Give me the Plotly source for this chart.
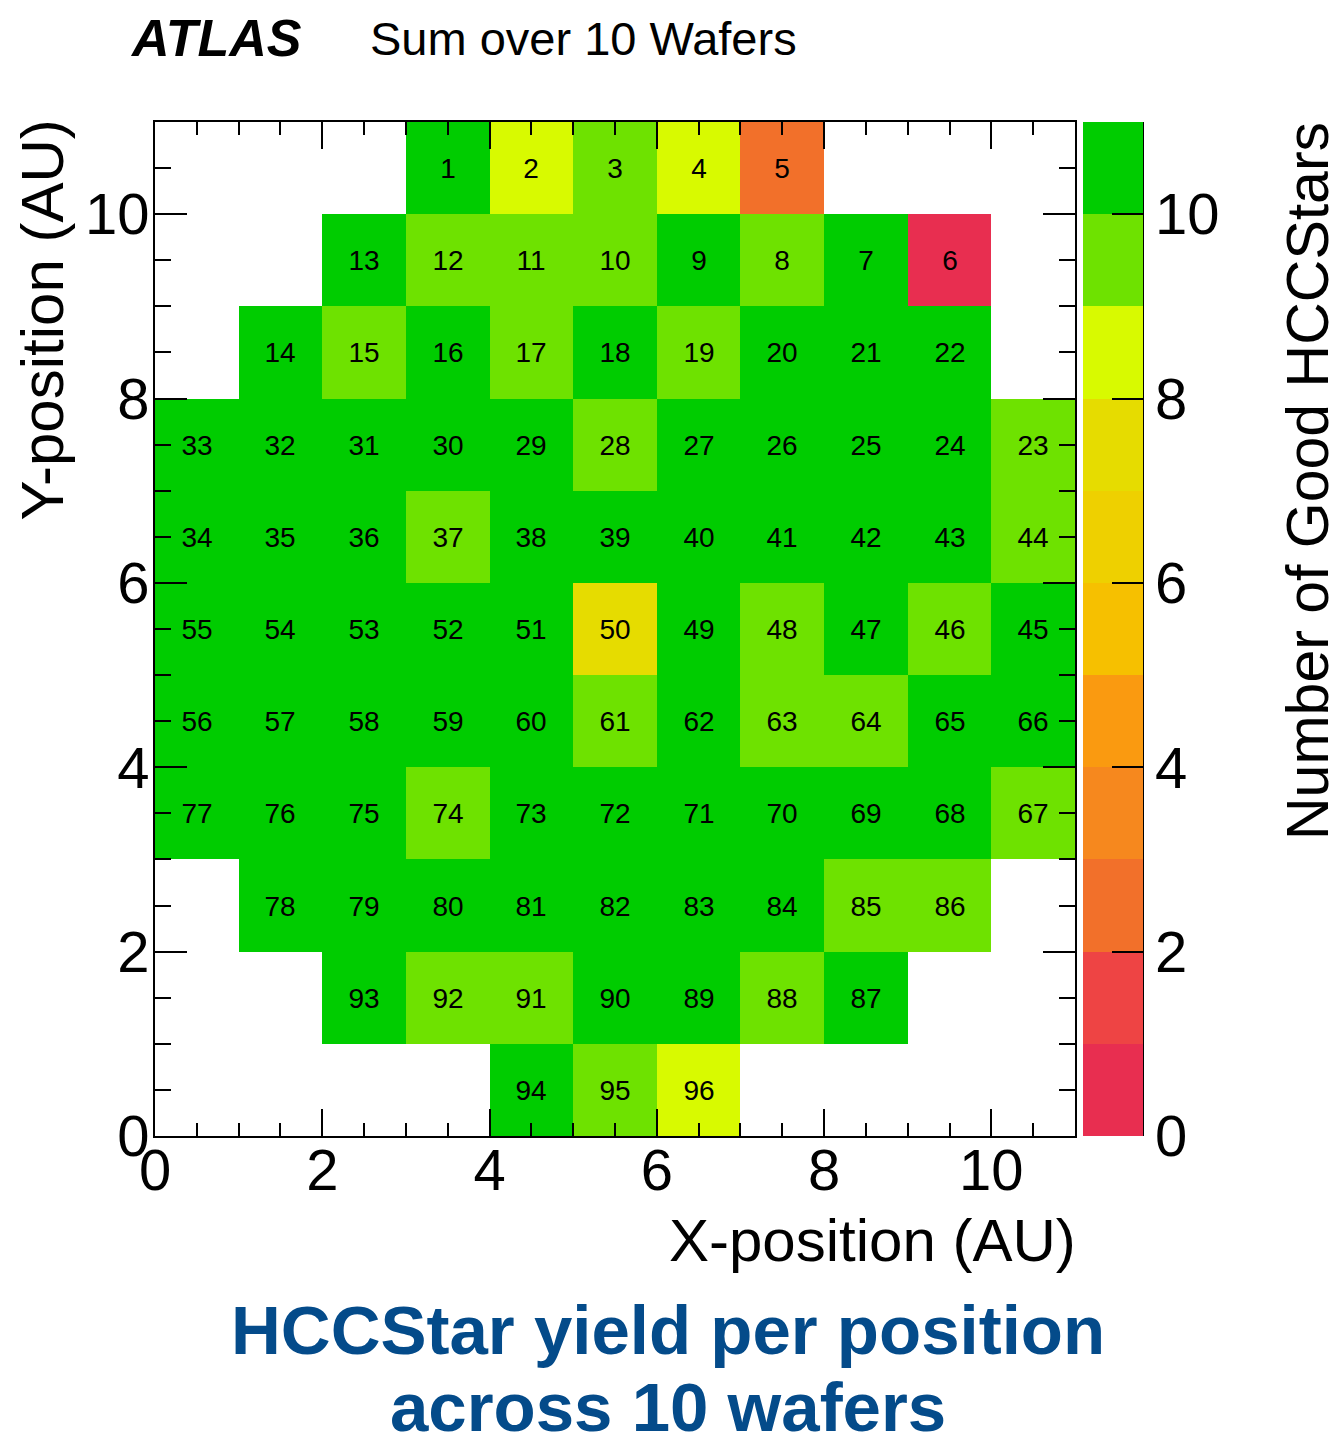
import plotly.graph_objects as go

# ---------------- data ----------------
row_y = [10, 9, 8, 7, 6, 5, 4, 3, 2, 1, 0]
row_x_start = [3, 2, 1, 0, 0, 0, 0, 0, 1, 2, 4]
row_ids = [
    [1, 2, 3, 4, 5],
    [13, 12, 11, 10, 9, 8, 7, 6],
    [14, 15, 16, 17, 18, 19, 20, 21, 22],
    [33, 32, 31, 30, 29, 28, 27, 26, 25, 24, 23],
    [34, 35, 36, 37, 38, 39, 40, 41, 42, 43, 44],
    [55, 54, 53, 52, 51, 50, 49, 48, 47, 46, 45],
    [56, 57, 58, 59, 60, 61, 62, 63, 64, 65, 66],
    [77, 76, 75, 74, 73, 72, 71, 70, 69, 68, 67],
    [78, 79, 80, 81, 82, 83, 84, 85, 86],
    [93, 92, 91, 90, 89, 88, 87],
    [94, 95, 96],
]
row_yields = [
    [10, 8, 9, 8, 2],
    [10, 9, 9, 9, 10, 9, 10, 0],
    [10, 9, 10, 9, 10, 9, 10, 10, 10],
    [10, 10, 10, 10, 10, 9, 10, 10, 10, 10, 9],
    [10, 10, 10, 9, 10, 10, 10, 10, 10, 10, 9],
    [10, 10, 10, 10, 10, 7, 10, 9, 10, 9, 10],
    [10, 10, 10, 10, 10, 9, 10, 9, 9, 10, 10],
    [10, 10, 10, 9, 10, 10, 10, 10, 10, 10, 9],
    [10, 10, 10, 10, 10, 10, 10, 9, 9],
    [10, 9, 9, 10, 10, 9, 10],
    [10, 9, 8],
]
band_colors = ["#e82e50", "#ee4444", "#f2702a", "#f6881e", "#fa9a10", "#f6c000",
               "#eed000", "#e6dc00", "#d8fa00", "#6ee200", "#00cc00"]
n_bins = 11
x_centers = [i + 0.5 for i in range(n_bins)]
y_centers = [i + 0.5 for i in range(n_bins)]

# build grid
z = [[None] * n_bins for _ in range(n_bins)]
txt = [[""] * n_bins for _ in range(n_bins)]
for yv, x0, ids, ylds in zip(row_y, row_x_start, row_ids, row_yields):
    for k, (pid, val) in enumerate(zip(ids, ylds)):
        z[yv][x0 + k] = val
        txt[yv][x0 + k] = str(pid)

# discrete colorscale
nb = len(band_colors)
cscale = []
for i, c in enumerate(band_colors):
    cscale.append([i / nb, c])
    cscale.append([(i + 1) / nb, c])

FONT = "Liberation Sans, Arial, Helvetica, sans-serif"
W, H = 1342, 1437
L, R, T, B = 155, 1342 - 1075, 122, 1437 - 1136
pw, ph = W - L - R, H - T - B

def px_x(p):
    return (p - L) / pw

def px_y(p):
    return (H - B - p) / ph

fig = go.Figure()
fig.add_trace(go.Heatmap(
    x=x_centers, y=y_centers, z=z, text=txt,
    texttemplate="%{text}", textfont=dict(size=28, color="black", family=FONT),
    zmin=0, zmax=11, colorscale=cscale, hoverongaps=False,
    colorbar=dict(
        x=px_x(1083), xanchor="left", xpad=0, ypad=0,
        y=0.5, yanchor="middle", len=1, lenmode="fraction",
        thickness=60, thicknessmode="pixels",
        outlinewidth=0,
        tickmode="linear", tick0=0, dtick=2,
        ticks="inside", ticklen=31, tickwidth=1.5, tickcolor="black",
        tickfont=dict(size=58, color="black", family=FONT),
    ),
))

axis_common = dict(
    range=[0, 11], showgrid=False, zeroline=False,
    showline=True, linecolor="black", linewidth=2, mirror="allticks",
    ticks="inside", tickcolor="black", tickwidth=1.5,
    tickmode="linear", tick0=0, dtick=2,
    tickfont=dict(size=58, color="black", family=FONT),
)
fig.update_xaxes(**axis_common, ticklen=27, ticklabelstandoff=-18,
                 minor=dict(dtick=0.5, ticks="inside", ticklen=13, tickcolor="black", tickwidth=1.5))
fig.update_yaxes(**axis_common, ticklen=32, ticklabelstandoff=-8,
                 minor=dict(dtick=0.5, ticks="inside", ticklen=16, tickcolor="black", tickwidth=1.5))

# colorbar right edge line
fig.add_shape(type="line", xref="paper", yref="paper",
              x0=px_x(1143), x1=px_x(1143), y0=0, y1=1,
              line=dict(color="black", width=2))

ann = []
ann.append(dict(text="<b><i>ATLAS</i></b>", x=px_x(128), y=px_y(38), xanchor="left", yanchor="middle",
                font=dict(size=52, color="black", family=FONT)))
ann.append(dict(text="Sum over 10 Wafers", x=px_x(368), y=px_y(38), xanchor="left", yanchor="middle",
                font=dict(size=47, color="black", family=FONT)))
ann.append(dict(text="X-position (AU)", x=px_x(1078), y=px_y(1240), xanchor="right", yanchor="middle",
                font=dict(size=60, color="black", family=FONT)))
ann.append(dict(text="Y-position (AU)", x=px_x(42), y=px_y(118), xanchor="center", yanchor="top",
                textangle=-90, font=dict(size=60, color="black", family=FONT)))
ann.append(dict(text="Number of Good HCCStars", x=px_x(1308), y=px_y(120), xanchor="center", yanchor="top",
                textangle=-90, font=dict(size=59, color="black", family=FONT)))
ann.append(dict(text="<b>HCCStar yield per position</b>", x=px_x(668), y=px_y(1330),
                xanchor="center", yanchor="middle", font=dict(size=69, color="#044b8a", family=FONT)))
ann.append(dict(text="<b>across 10 wafers</b>", x=px_x(668), y=px_y(1407),
                xanchor="center", yanchor="middle", font=dict(size=69, color="#044b8a", family=FONT)))
for a in ann:
    a.update(xref="paper", yref="paper", showarrow=False)
fig.update_layout(
    width=W, height=H, margin=dict(l=L, r=R, t=T, b=B, pad=0),
    plot_bgcolor="white", paper_bgcolor="white",
    annotations=ann, showlegend=False,
)
fig.write_html("out.html")
